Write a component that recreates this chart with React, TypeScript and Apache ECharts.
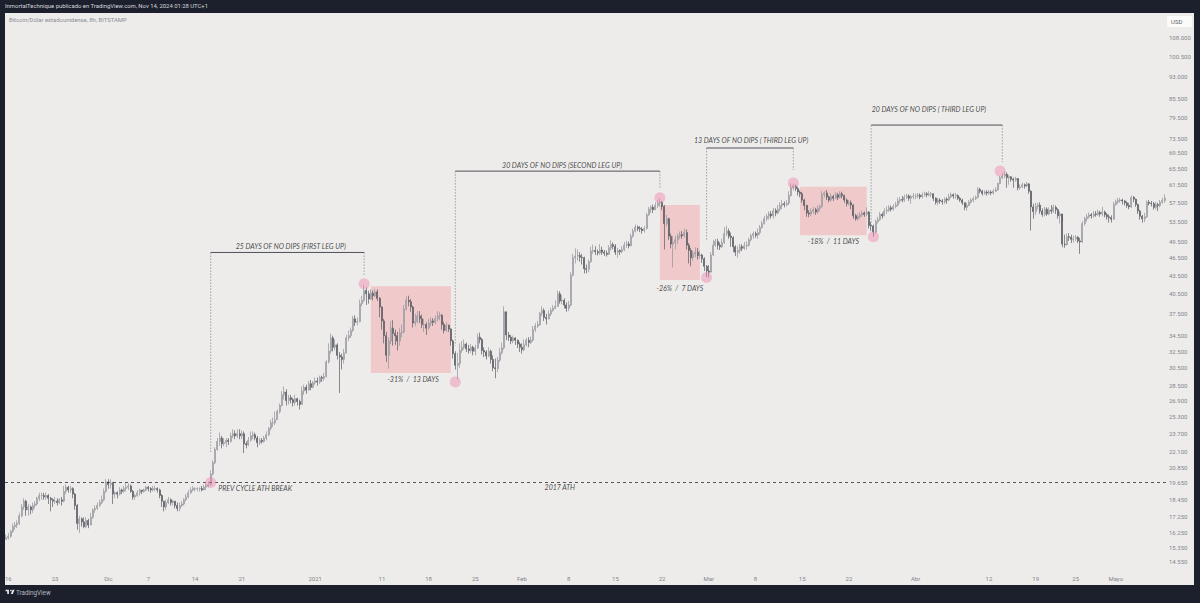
import React from "react";
import * as echarts from "echarts";

// candles as [close, low, high] in thousands of USD, open is the previous close
const novCandles = [
  [15.9,15.8,16.1],
  [16.0,15.8,16.2],[16.3,15.9,16.4],[16.6,16.2,16.8],[16.7,16.4,16.9],[16.8,16.5,17.0],[17.3,16.7,17.5],
  [17.9,17.2,18.1],[18.3,17.7,18.5],[17.7,17.3,18.4],[17.9,17.3,18.1],[17.7,17.4,18.0],[18.0,17.5,18.2],
  [18.1,17.8,18.3],[18.5,18.0,18.6],[18.7,18.3,18.9],[18.7,18.4,18.9],[18.6,18.4,18.9],[18.7,18.4,18.9],
  [18.5,18.1,18.8],[18.4,17.6,18.6],[18.3,17.9,18.5],[18.3,18.1,18.6],[18.2,18.0,18.5],[18.4,18.1,18.5],
  [18.3,18.0,18.6],[19.0,18.2,19.4],[19.3,18.8,19.5],[19.1,18.9,19.4],[19.2,18.9,19.4],[18.8,18.5,19.3],
  [18.0,17.7,18.9],[16.8,16.4,18.1],[17.1,16.2,17.3],[16.9,16.6,17.2],[16.6,16.5,17.2],[17.0,16.5,17.2],
  [16.7,16.5,17.1],[17.2,16.7,17.5],[17.7,17.1,17.8],[17.8,17.5,18.0],[18.0,17.7,18.2],[18.2,17.9,18.4],
  [18.4,18.1,18.7],[19.0,18.3,19.2],[19.7,18.9,19.9],
];
const decCandles = [
  [19.5,19.2,19.9],[19.6,19.2,19.9],[18.8,18.1,19.7],[18.9,18.5,19.0],[18.8,18.5,19.0],[19.1,18.7,19.3],
  [19.0,18.8,19.2],[19.2,18.9,19.4],[19.3,19.0,19.6],[19.4,19.1,19.6],[19.0,18.9,19.5],[18.6,18.4,19.1],
  [18.7,18.4,18.8],[18.9,18.6,19.1],[19.1,18.7,19.2],[19.0,18.8,19.1],[19.1,18.9,19.2],[19.3,19.0,19.4],
  [19.2,19.0,19.4],[19.1,18.9,19.3],[19.2,19.0,19.4],[19.2,19.0,19.4],[19.1,18.9,19.3],[18.7,18.5,19.2],
  [18.3,17.9,18.8],[17.9,17.6,18.3],[18.2,17.7,18.4],[18.4,18.1,18.6],[18.2,18.0,18.5],[18.3,18.0,18.4],
  [18.0,17.8,18.3],[17.8,17.6,18.2],[18.0,17.6,18.2],[18.1,17.9,18.3],[18.4,18.0,18.5],[18.6,18.3,18.8],
  [18.9,18.5,19.1],[19.1,18.8,19.3],[19.2,19.0,19.4],[19.2,19.0,19.3],[19.2,19.0,19.3],[19.2,19.0,19.3],
  [19.1,19.0,19.4],[19.3,19.1,19.5],[19.4,19.1,19.6],[19.5,19.3,19.7],[20.3,19.4,20.6],[21.2,20.2,21.4],
  [22.3,21.1,22.5],[23.0,22.2,23.3],[23.3,22.6,23.8],[22.8,22.4,23.5],[22.9,22.6,23.3],[23.1,22.5,23.3],
  [23.0,22.7,23.3],[23.5,22.9,23.8],[23.7,23.3,24.1],[23.5,23.2,24.0],[23.7,23.3,24.1],[23.5,23.2,24.1],
  [23.7,23.2,24.0],[22.8,22.0,23.9],[22.7,22.4,23.0],[23.1,22.6,23.4],[23.5,23.0,23.9],[23.6,23.2,23.9],
  [23.3,23.1,23.8],[22.9,22.5,23.5],[23.1,22.7,23.3],[23.0,22.8,23.3],[23.3,22.9,23.5],[23.6,23.1,23.9],
  [24.2,23.5,24.3],[24.7,24.0,25.0],[24.7,24.3,25.2],[25.0,24.5,25.8],[25.8,25.0,26.0],[26.4,25.6,26.6],
  [27.5,26.3,27.9],[27.8,27.0,28.4],[26.9,26.4,28.1],[27.2,26.5,27.5],[27.0,26.6,27.5],[26.7,26.3,27.2],
  [27.1,26.4,27.5],[26.8,26.4,27.2],[26.5,26.0,27.0],[27.9,26.5,28.4],[28.3,27.5,28.6],[28.0,27.6,28.6],
  [28.7,28.1,29.0],[28.3,28.0,29.1],[28.8,28.2,29.0],
];
const janCandles = [
  [29.0,28.6,29.4],[28.9,28.5,29.4],[29.4,28.7,29.6],[29.3,28.9,29.6],[29.5,29.0,29.9],[31.2,29.4,31.4],
  [32.5,31.0,33.5],[34.2,32.2,34.8],[33.0,32.5,34.5],[33.3,32.6,34.0],[32.0,31.5,33.5],[31.8,27.7,32.4],
  [31.5,30.3,32.2],[32.3,31.0,32.8],[34.2,32.2,34.6],[34.5,33.8,35.2],[35.2,34.2,35.6],[36.8,35.0,37.2],
  [36.3,35.8,37.3],[36.4,35.9,37.0],[39.0,36.3,39.6],[39.5,38.6,40.2],[41.0,39.2,41.9],[40.5,38.8,41.5],
  [39.7,39.0,41.0],[40.6,39.6,41.2],[40.2,39.5,41.0],[40.8,40.0,41.3],[39.8,39.4,41.2],[38.5,37.0,40.0],
  [36.5,35.3,38.6],[34.5,33.5,36.8],[32.0,31.2,35.0],[33.8,30.4,34.3],[35.5,33.4,36.5],[34.8,33.2,36.6],
  [34.5,33.3,35.3],[33.8,32.6,35.0],[34.9,33.2,35.5],[35.0,34.3,36.0],[38.2,34.8,38.8],[39.5,38.0,40.1],
  [39.3,38.6,40.2],[38.5,37.8,39.7],[36.2,35.6,38.7],[36.4,35.8,37.5],[37.2,36.2,37.9],[36.8,36.2,37.9],
  [36.0,35.5,37.4],[36.0,35.0,36.8],[35.5,34.6,36.3],[36.2,35.3,36.8],[36.5,35.8,37.0],[36.3,35.8,36.9],
  [36.8,36.0,37.3],[37.2,36.4,37.9],[37.3,36.6,37.8],[36.0,35.3,37.5],[35.2,34.8,36.4],[35.9,35.0,36.3],
  [35.4,35.0,36.0],[33.8,33.2,35.5],[32.2,31.6,34.0],[30.8,30.3,32.5],[31.0,29.2,32.3],[32.6,30.5,33.5],
  [33.0,32.3,33.8],[33.4,32.7,34.0],[32.8,32.4,33.6],[32.6,32.2,33.3],[33.0,32.3,33.4],[32.5,32.0,33.2],
  [32.9,32.0,33.3],[34.3,32.8,34.8],[34.0,33.5,34.9],[32.6,32.1,34.2],[32.4,31.8,33.0],[31.9,31.5,32.6],
  [32.5,31.8,33.0],[31.5,31.0,32.7],[30.5,30.1,32.0],[30.4,29.3,31.6],[31.4,30.0,31.8],[32.3,31.2,32.9],
  [32.9,32.1,33.6],[37.8,32.7,38.6],[34.6,33.9,37.6],[34.3,33.8,35.0],[33.8,33.4,34.6],[34.2,33.5,34.5],
  [33.9,33.3,34.3],[33.4,32.9,34.0],[33.0,32.4,33.7],
];
const febCandles = [
  [32.7,32.2,33.5],[33.3,32.5,34.0],[33.9,33.1,34.2],[33.6,33.0,34.3],[33.9,33.4,34.4],[35.3,33.7,35.8],
  [35.8,35.0,36.2],[36.0,35.5,36.5],[37.6,35.8,37.8],[38.0,37.2,38.6],[37.0,36.5,38.3],[36.8,36.0,37.5],
  [37.5,36.7,38.0],[38.0,37.2,38.4],[38.3,37.8,38.8],[38.6,38.2,39.5],[40.5,38.5,41.0],[39.4,39.0,40.9],
  [39.5,38.9,40.3],[38.8,38.3,39.8],[38.3,37.8,39.2],[38.8,37.9,39.4],[43.5,38.6,44.0],[46.5,43.3,47.2],
  [46.8,45.5,48.2],[46.9,46.0,48.0],[46.6,45.8,47.5],[46.5,45.3,47.2],[44.6,43.8,46.7],[44.5,43.8,45.3],
  [45.8,44.0,46.2],[47.7,45.6,48.5],[47.8,47.2,48.9],[47.6,47.0,48.6],[47.4,46.9,48.0],[47.9,47.0,49.0],
  [47.5,47.0,48.5],[47.3,46.8,47.9],[47.1,46.7,47.8],[48.3,47.0,48.8],[48.9,47.8,49.7],[48.6,48.0,49.3],
  [47.5,47.0,49.0],[47.8,46.5,48.3],[47.6,47.0,48.0],[48.0,47.3,48.6],[48.8,47.7,49.4],[49.0,48.3,49.6],
  [48.7,48.2,49.5],[50.5,48.6,51.0],[51.5,50.2,52.0],[52.3,51.2,52.8],[52.0,51.5,52.6],[51.9,51.3,52.5],
  [51.6,51.0,52.3],[52.0,51.2,52.5],[54.8,51.8,55.2],[56.0,54.6,56.5],[56.4,55.2,56.8],[55.9,55.2,57.0],
  [56.8,55.8,57.5],[57.3,56.2,58.0],[57.5,56.5,58.4],[56.6,55.8,57.8],[53.0,48.0,56.9],[54.0,52.5,54.8],
  [50.5,49.8,54.2],[49.0,48.2,51.0],[49.3,44.8,50.5],[49.8,48.0,50.5],[50.5,49.0,51.0],[50.8,50.0,51.4],
  [50.6,50.0,51.5],[51.2,50.2,52.0],[48.8,48.0,51.8],[47.8,45.5,49.2],[46.5,45.0,48.3],[47.2,46.0,47.8],
  [47.5,46.6,48.4],[46.9,46.2,48.3],[47.0,46.3,47.8],[46.3,45.6,47.2],[45.0,44.2,46.6],[44.2,43.2,45.2],
];
const marCandles = [
  [44.0,43.1,45.2],[47.0,44.2,47.5],[48.8,46.8,49.8],[49.5,48.5,50.0],[48.8,48.0,50.0],[48.5,47.9,49.3],
  [49.3,48.3,50.0],[51.0,49.0,52.3],[51.5,50.5,52.6],[50.5,50.0,52.0],[50.2,48.5,51.2],[48.5,47.5,50.5],
  [47.5,46.8,48.8],[47.8,46.5,48.6],[48.5,47.2,49.0],[48.2,47.7,49.0],[48.7,47.9,49.4],[48.8,48.0,49.5],
  [49.8,48.5,50.2],[50.6,49.5,51.0],[51.0,50.0,51.4],[50.7,50.2,51.4],[51.2,50.0,52.0],[52.2,50.8,52.7],
  [53.0,52.0,53.5],[54.0,52.8,54.6],[54.5,53.5,55.0],[55.0,53.8,55.5],[54.6,54.0,55.6],[55.7,54.0,56.3],
  [55.2,54.5,56.2],[56.0,54.9,56.9],[56.8,55.5,57.5],[57.2,56.0,58.0],[57.0,56.4,57.7],[57.3,56.6,58.0],
  [59.0,56.9,60.0],[60.8,58.8,61.8],[61.2,60.2,61.7],[60.6,60.0,61.5],[59.8,59.0,61.0],[59.4,58.6,60.2],
  [58.0,57.4,59.8],[56.8,55.8,58.3],[55.2,54.4,57.0],[55.0,54.3,55.8],[55.6,54.5,56.2],[55.9,55.0,56.5],
  [55.4,54.8,56.3],[56.2,55.0,56.8],[56.6,55.6,57.0],[59.2,56.3,60.0],[59.6,58.6,60.0],[58.7,58.0,60.3],
  [58.0,57.5,59.0],[58.8,57.6,59.5],[58.4,57.8,59.2],[59.2,58.2,59.8],[58.6,58.0,59.6],[59.4,58.3,60.0],
  [59.0,58.4,59.9],[58.0,57.4,59.2],[57.2,56.6,58.4],[57.4,56.8,58.0],[56.9,56.0,57.9],[54.6,54.0,57.1],
  [54.0,53.6,55.0],[54.4,53.6,55.0],[54.8,54.0,55.4],[55.2,54.4,55.7],[54.9,54.4,55.5],[55.4,54.5,56.4],
  [52.6,52.0,55.6],[52.5,51.5,53.3],[51.3,50.4,52.8],[53.4,51.0,53.8],[53.8,53.0,54.4],[54.9,53.6,55.4],
  [54.6,54.0,55.3],[55.6,54.5,56.2],[55.8,55.0,56.6],[56.3,55.4,56.9],[56.0,55.5,56.8],[56.6,55.7,57.1],
  [56.9,56.2,57.6],[57.8,56.6,58.5],[58.1,57.3,58.7],[58.0,57.5,58.9],[58.6,57.6,59.2],[58.9,58.2,59.4],
  [58.4,57.8,59.3],[58.8,57.2,59.2],[58.9,58.2,59.6],
];
const aprCandles = [
  [58.9,58.2,59.4],[59.1,58.4,59.6],[58.7,58.2,59.5],[59.2,58.4,59.7],[59.4,58.8,59.9],[59.2,58.6,59.8],
  [59.3,58.8,60.0],[59.4,58.7,59.8],[58.4,57.8,59.5],[57.5,57.0,58.6],[58.0,56.8,58.5],[57.8,57.2,58.4],
  [57.6,57.0,58.2],[58.2,57.2,58.6],[58.0,57.2,58.6],[58.7,57.8,59.4],[59.2,58.4,59.7],[58.9,58.3,59.5],
  [59.0,58.3,59.6],[58.4,58.0,59.3],[58.0,57.6,58.7],[57.4,56.9,58.3],[56.4,55.8,57.5],[56.8,55.7,57.4],
  [57.5,56.7,58.0],[58.0,57.2,58.4],[58.3,57.5,58.8],[58.6,58.0,59.0],[60.4,58.4,60.9],[60.0,59.5,60.8],
  [59.5,59.0,60.3],[59.8,59.2,60.2],[59.6,59.0,60.2],[59.8,59.2,60.3],[59.6,59.1,60.2],[60.0,59.2,60.5],
  [60.3,59.8,60.9],[61.8,60.1,62.0],[63.2,61.6,63.6],[63.6,62.8,64.3],[64.0,63.0,64.8],[63.2,60.8,64.5],
  [63.4,61.5,63.9],[62.8,62.2,63.6],[62.6,60.8,63.2],[63.0,62.2,63.4],[60.8,60.2,63.0],[61.0,60.3,61.6],
  [61.5,60.7,62.0],[61.2,60.6,61.8],[61.7,60.9,62.2],[60.0,59.4,61.9],[56.5,51.6,60.2],[55.5,54.0,57.2],
  [56.6,54.8,57.4],[56.9,56.0,57.4],[55.6,55.0,57.5],[54.9,54.4,56.2],[56.0,54.5,56.5],[55.0,54.6,56.4],
  [55.8,54.7,56.4],[55.6,55.0,56.9],[56.4,55.2,57.0],[55.9,55.0,56.8],[54.6,54.0,56.2],[55.0,53.0,55.5],
  [49.0,48.4,53.4],[48.9,48.3,50.8],[50.4,48.7,51.0],[50.3,49.6,51.1],[49.9,49.2,50.8],[50.0,49.3,50.6],
  [50.3,49.6,50.7],[49.6,49.2,50.5],[49.4,47.2,50.2],[53.0,49.2,53.5],[54.0,52.6,54.4],[54.4,53.4,55.0],
  [54.8,54.0,55.3],[54.6,54.0,55.2],[55.0,54.2,55.6],[54.9,54.4,55.6],[55.3,54.6,55.9],[55.0,54.4,55.7],
  [55.4,54.5,56.5],[54.8,54.3,55.7],[54.4,53.8,55.2],[54.2,53.2,54.9],[53.9,53.2,54.7],[57.0,53.8,57.6],
];
const mayCandles = [
  [57.6,56.8,58.1],[57.9,57.2,58.5],[58.0,57.4,58.5],[57.8,57.0,58.3],[57.4,56.8,58.0],[56.8,56.3,57.7],
  [56.5,56.0,57.4],[58.6,56.3,59.0],[58.2,57.5,58.9],[57.0,56.5,58.3],[55.6,55.0,57.2],[54.5,53.8,55.9],
  [54.0,53.2,54.8],[54.4,53.3,55.2],[57.5,54.2,57.9],[57.3,56.8,58.0],[57.2,56.6,57.8],[56.4,55.9,57.6],
  [57.0,56.0,57.6],[56.8,55.6,57.4],[57.5,56.4,58.0],[57.9,57.2,58.5],[58.4,57.4,59.3],
];

const priceTicks = [
  108000, 100500, 93000, 85500, 79500, 73500, 69500, 65500, 61500, 57500, 53500,
  49500, 46500, 43500, 40500, 37500, 34500, 32500, 30500, 28500, 26900, 25300,
  23700, 22100, 20850, 19650, 18450, 17250, 16250, 15350, 14550,
];
const timeTicks: [string, string][] = [
  ["2020-11-16T00", "16"], ["2020-11-23T00", "23"], ["2020-12-01T00", "Dic"], ["2020-12-07T00", "7"],
  ["2020-12-14T00", "14"], ["2020-12-21T00", "21"], ["2021-01-01T00", "2021"], ["2021-01-11T00", "11"],
  ["2021-01-18T00", "18"], ["2021-01-25T00", "25"], ["2021-02-01T00", "Feb"], ["2021-02-08T00", "8"],
  ["2021-02-15T00", "15"], ["2021-02-22T00", "22"], ["2021-03-01T00", "Mar"], ["2021-03-08T00", "8"],
  ["2021-03-15T00", "15"], ["2021-03-22T00", "22"], ["2021-04-01T00", "Abr"], ["2021-04-12T00", "12"],
  ["2021-04-19T00", "19"], ["2021-04-25T00", "25"], ["2021-05-01T00", "Mayo"],
];

const ath2017 = 19650;
// pink circles at the swing points
const swingPoints: [string, number][] = [
  ["2020-12-16T08", 19650], ["2021-01-08T08", 42100], ["2021-01-22T00", 28900], ["2021-02-21T16", 58500],
  ["2021-02-28T16", 43100], ["2021-03-13T16", 61900], ["2021-03-25T16", 50400], ["2021-04-13T16", 64800],
];
// from, to, top price, price where the left leg stops, price where the right leg stops
const legs: [string, string, number, number, number][] = [
  ["2020-12-16T08", "2021-01-08T08", 47450, 22100, 43500],
  ["2021-01-22T00", "2021-02-21T16", 64800, 33200, 60500],
  ["2021-02-28T16", "2021-03-13T16", 70800, 49800, 65100],
  ["2021-03-25T08", "2021-04-14T00", 77300, 52700, 67100],
];
const dipBoxes: [string, string, number, number][] = [
  ["2021-01-09T08", "2021-01-21T08", 41700, 29900],
  ["2021-02-21T16", "2021-02-27T16", 56900, 42700],
  ["2021-03-14T16", "2021-03-24T16", 61050, 50700],
];
const notes: [string, number, string][] = [
  ["2020-12-28T08", 48600, "25 DAYS OF NO DIPS (FIRST LEG UP)"],
  ["2021-02-07T00", 66300, "30 DAYS OF NO DIPS (SECOND LEG UP)"],
  ["2021-03-07T08", 73000, "13 DAYS OF NO DIPS ( THIRD LEG UP)"],
  ["2021-04-03T00", 82200, "20 DAYS OF NO DIPS ( THIRD LEG UP)"],
  ["2021-01-15T16", 29200, "-31%  /  13 DAYS"],
  ["2021-02-24T16", 41400, "-26%  /  7 DAYS"],
  ["2021-03-19T16", 49600, "-18%  /  11 DAYS"],
  ["2020-12-23T00", 19250, "PREV CYCLE ATH BREAK"],
  ["2021-02-06T16", 19300, "2017 ATH"],
];

const SLOTS = 523;
const categories: string[] = [];
for (let i = 0; i < SLOTS; i++) {
  const d = new Date(Date.UTC(2020, 10, 15, 16) + i * 8 * 3600 * 1000);
  categories.push(d.toISOString().slice(0, 13));
}

const rows = [...novCandles, ...decCandles, ...janCandles, ...febCandles, ...marCandles, ...aprCandles, ...mayCandles];
// echarts wants [open, close, low, high]
const ohlc = rows.map(([c, l, h], i) => {
  const open = i === 0 ? 15.8 : rows[i - 1][0];
  return [open * 1000, c * 1000, l * 1000, h * 1000];
});

const axisFont = "Roboto";
const noteFont = "Lato";
const logoPath =
  "M14 6H2v6h6v9h6V6zm14 15h-7l6-15h7l-6 15zm-7-9a3 3 0 1 0 0-6 3 3 0 0 0 0 6z";
echarts.graphic.registerShape("tvlogo", echarts.graphic.extendPath(logoPath, {}));

export default function App() {
  const chartRef = React.useRef<HTMLDivElement>(null);
  React.useEffect(() => {
    document.body.style.margin = "0";
    const chart = echarts.init(chartRef.current, null, { renderer: "svg" });
    const tickMap = new Map(timeTicks);

    const legSeries: any[] = [];
    legs.forEach(([from, to, top, leftEnd, rightEnd]) => {
      legSeries.push({
        type: "line",
        data: [[from, top], [to, top]],
        symbol: "none",
        silent: true,
        lineStyle: { color: "#3c3f48", width: 0.9 },
        z: 5,
      });
      [[from, leftEnd], [to, rightEnd]].forEach(([x, end]) => {
        legSeries.push({
          type: "line",
          data: [[x, top], [x, end]],
          symbol: "none",
          silent: true,
          lineStyle: { color: "#7d7f88", width: 0.7, type: [1.5, 1.5] },
          z: 5,
        });
      });
    });

    const option: any = {
      animation: false,
      backgroundColor: "#1b202c",
      grid: { left: 5, top: 14, width: 1163, height: 558 },
      xAxis: {
        type: "category",
        data: categories,
        boundaryGap: true,
        axisLine: { show: false },
        axisTick: { show: false },
        splitLine: { show: false },
        axisLabel: {
          show: true,
          interval: (_: number, v: string) => tickMap.has(v),
          formatter: (v: string) => tickMap.get(v) ?? "",
          color: "#83858d",
          fontSize: 6,
          fontFamily: axisFont,
          margin: 3,
          hideOverlap: false,
        },
      },
      yAxis: {
        type: "log",
        logBase: Math.E,
        min: 13950,
        max: 118300,
        position: "right",
        axisLine: { show: false },
        axisTick: { show: false },
        splitLine: { show: false },
        axisLabel: {
          customValues: priceTicks,
          color: "#83858d",
          fontSize: 6,
          fontFamily: axisFont,
          margin: 1,
          formatter: (v: number) => String(Math.round(v)).replace(/(\d)(\d{3})$/, "$1.$2"),
        },
      },
      graphic: [
        { type: "rect", z: -10, silent: true, shape: { x: 5, y: 13, width: 1189, height: 572 }, style: { fill: "#edecea" } },
        { type: "text", x: 5, y: 3, style: { text: "InmortalTechnique publicado en TradingView.com, Nov 14, 2024 01:28 UTC+1", fill: "#d6d8de", font: `5.9px ${axisFont}` } },
        { type: "text", x: 9, y: 17, style: { text: "Bitcoin/Dólar estadounidense, 8h, BITSTAMP", fill: "#8b8d94", font: `5.9px ${axisFont}` } },
        { type: "rect", shape: { x: 1167, y: 16, width: 25, height: 11 }, style: { fill: "#fbfbfb" } },
        { type: "text", x: 1171, y: 18, style: { text: "USD", fill: "#5c5f68", font: `6px ${axisFont}` } },
        { type: "tvlogo", x: 5, y: 588, scaleX: 0.28, scaleY: 0.28, style: { fill: "#e8e9ed" } },
        { type: "text", x: 16, y: 590, style: { text: "TradingView", fill: "#b9bbc2", font: `6.3px ${axisFont}` } },
      ],
      series: [
        {
          type: "candlestick",
          data: ohlc,
          barWidth: 1.5,
          silent: true,
          itemStyle: {
            color: "#d2d2d6",
            color0: "#5a5b63",
            borderColor: "#92939a",
            borderColor0: "#5a5b63",
            borderWidth: 0.7,
          },
          markLine: {
            silent: true,
            symbol: "none",
            label: { show: false },
            lineStyle: { color: "#2c2e35", width: 0.8, type: [3, 3] },
            data: [{ yAxis: ath2017 }],
          },
          markArea: {
            silent: true,
            itemStyle: { color: "#f0c9cb" },
            data: dipBoxes.map(([x0, x1, hi, lo]) => [
              { xAxis: x0, yAxis: hi },
              { xAxis: x1, yAxis: lo },
            ]),
          },
        },
        {
          type: "scatter",
          data: swingPoints,
          symbolSize: 11,
          silent: true,
          itemStyle: { color: "rgba(240,130,170,0.55)" },
          z: 6,
        },
        ...legSeries,
        {
          type: "scatter",
          symbolSize: 0,
          silent: true,
          z: 7,
          data: notes.map(([x, y, text]) => ({ value: [x, y], text })),
          label: {
            show: true,
            position: "inside",
            formatter: (p: any) => p.data.text,
            color: "#17181c",
            fontSize: 7,
            fontStyle: "italic",
            fontFamily: noteFont,
          },
        },
      ],
    };
    chart.setOption(option);
    return () => {
      chart.dispose();
    };
  }, []);
  return <div ref={chartRef} style={{ position: "fixed", left: 0, top: 0, width: 1200, height: 603 }} />;
}
